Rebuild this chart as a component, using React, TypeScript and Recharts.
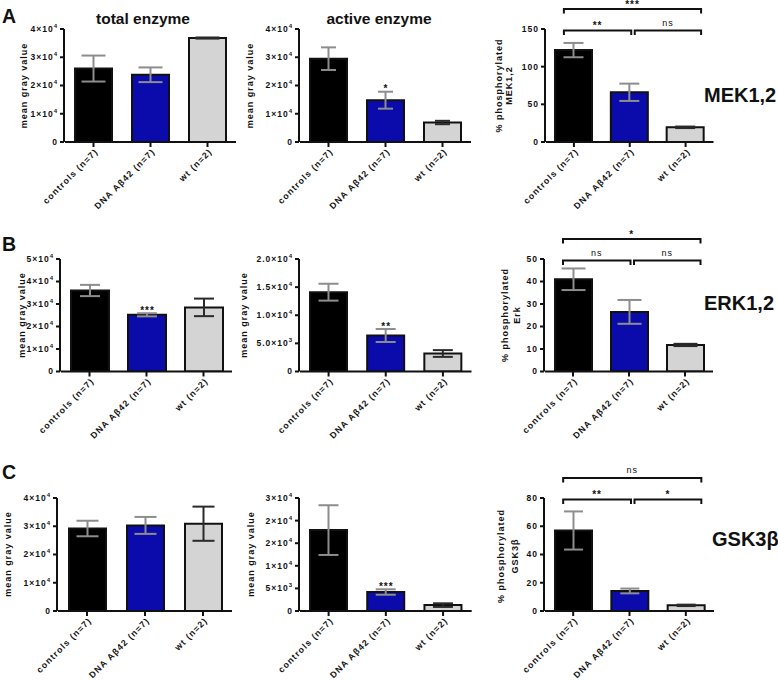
import React from 'react';
import { BarChart, Bar, XAxis, YAxis, ErrorBar, Cell, LabelList, ReferenceLine } from 'recharts';

const FONT = '"Liberation Sans", Arial, Helvetica, sans-serif';
const INK = '#111111';

// ---------- categories & styling keys ----------
const groups = ['controls (n=7)', 'DNA Aβ42 (n=7)', 'wt (n=2)'];
const barFills = ['#000000', '#0b0bab', '#d4d4d4'];
const errorTone = ['light', 'light', 'dark'];

// ---------- MEK1,2 ----------
const mekTotalMean = [26000, 23800, 36800];
const mekTotalSem = [4600, 2600, 200];
const mekActiveMean = [29500, 14800, 6900];
const mekActiveSem = [4000, 3000, 600];
const mekActiveSig = ['', '*', ''];
const mekPhosMean = [122, 66, 19.5];
const mekPhosSem = [9.5, 11.5, 1];
const mekComparisons: [string, number, number][] = [['**', 0, 1], ['ns', 1, 2], ['***', 0, 2]];

// ---------- ERK1,2 ----------
const erkTotalMean = [36000, 25200, 28500];
const erkTotalSem = [2500, 700, 3900];
const erkTotalSig = ['', '***', ''];
const erkActiveMean = [14100, 6400, 3200];
const erkActiveSem = [1500, 1150, 600];
const erkActiveSig = ['', '**', ''];
const erkPhosMean = [41, 26.5, 11.8];
const erkPhosSem = [4.8, 5.3, 0.5];
const erkComparisons: [string, number, number][] = [['ns', 0, 1], ['ns', 1, 2], ['*', 0, 2]];

// ---------- GSK3β ----------
const gskTotalMean = [29200, 30300, 30900];
const gskTotalSem = [2750, 3000, 6050];
const gskActiveMean = [17900, 4200, 1300];
const gskActiveSem = [5500, 600, 400];
const gskActiveSig = ['', '***', ''];
const gskPhosMean = [57, 14.2, 4.0];
const gskPhosSem = [13.5, 1.7, 0.5];
const gskComparisons: [string, number, number][] = [['**', 0, 1], ['*', 1, 2], ['ns', 0, 2]];

// ---------- axis ticks & labels ----------
const ticks40k = [0, 10000, 20000, 30000, 40000];
const labels40k = ['0', '1×10^4', '2×10^4', '3×10^4', '4×10^4'];
const ticks50k = [0, 10000, 20000, 30000, 40000, 50000];
const labels50k = ['0', '1×10^4', '2×10^4', '3×10^4', '4×10^4', '5×10^4'];
const ticks20k = [0, 5000, 10000, 15000, 20000];
const labels20k = ['0', '5.0×10^3', '1.0×10^4', '1.5×10^4', '2.0×10^4'];
const ticks25k = [0, 5000, 10000, 15000, 20000, 25000];
const labels25k = ['0', '5×10^3', '1×10^4', '2×10^4', '2×10^4', '3×10^4'];
const ticksMekPhos = [0, 50, 100, 150];
const labelsMekPhos = ['0', '50', '100', '150'];
const ticksErkPhos = [0, 10, 20, 30, 40, 50];
const labelsErkPhos = ['0', '10', '20', '30', '40', '50'];
const ticksGskPhos = [0, 20, 40, 60, 80];
const labelsGskPhos = ['0', '20', '40', '60', '80'];

// bracket end nudges (px) relative to category centres: left end by start group, right end by end group
const bracketLeftShift = [-10, 5];
const bracketRightShift = [1.5, 15.5];

type PanelProps = {
  plotLeft: number; plotRight: number; plotTop: number; plotBottom: number;
  ticks: number[]; tickLabels: string[];
  means: number[]; sems: number[]; sigs?: string[];
  comps?: [string, number, number][];
  barSize: number; capHalf: number;
};

const XTick = (props: any) => {
  const { x, y, payload } = props;
  return (
    <text
      transform={`translate(${x + 3},${y + 1}) rotate(-45)`}
      textAnchor="end"
      dy="0.35em"
      fontSize={8.8}
      fontWeight={700}
      letterSpacing={1.1}
      fill={INK}
      fontFamily={FONT}
    >
      {payload.value}
    </text>
  );
};

const makeYTick = (ticks: number[], labels: string[]) => (props: any) => {
  const { x, y, payload } = props;
  const idx = ticks.indexOf(payload.value);
  const lab = idx >= 0 ? labels[idx] : String(payload.value);
  const [base, exp] = lab.split('^');
  return (
    <text x={x} y={y} dy="0.35em" textAnchor="end" fontSize={8.5} fontWeight={700}
      letterSpacing={1} fill={INK} fontFamily={FONT}>
      {base}
      {exp ? <tspan dy={-4} fontSize={6}>{exp}</tspan> : null}
    </text>
  );
};

const makeBracket = (lab: string, dl: number, dr: number) => (sp: any) => {
  const { x1, y1, x2 } = sp;
  if (x1 == null || y1 == null || x2 == null) return <g />;
  const xa = x1 + dl;
  const xb = x2 + dr;
  const isNs = lab === 'ns';
  return (
    <g>
      <path d={`M${xa},${y1 + 4.5} V${y1} H${xb} V${y1 + 4.5}`} fill="none" stroke={INK} strokeWidth={2} />
      <text x={(xa + xb) / 2} y={y1 - (isNs ? 5 : 1.5)} textAnchor="middle" fontSize={isNs ? 9 : 10}
        fontWeight={isNs ? 400 : 700} letterSpacing={1} fill={INK} fontFamily={FONT}>{lab}</text>
    </g>
  );
};

function Panel(p: PanelProps) {
  const { plotLeft, plotRight, plotTop, plotBottom, ticks, tickLabels, means, sems, sigs, comps, barSize, capHalf } = p;
  const plotH = plotBottom - plotTop;
  const plotW = plotRight - plotLeft;
  const L = 46, T = 36, B = 80, R = 4;
  const max = ticks[ticks.length - 1];
  const perPx = max / plotH;

  const data = groups.map((g, i) => ({
    group: g,
    mean: means[i],
    errLight: errorTone[i] === 'light' ? sems[i] : undefined,
    errDark: errorTone[i] === 'dark' ? sems[i] : undefined,
    sig: sigs ? sigs[i] : '',
  }));

  const majorPx = plotH / (ticks.length - 1);
  const nSub = Math.max(1, Math.round(majorPx / 2.8));
  const step = (ticks[1] - ticks[0]) / nSub;
  const minorTicks: number[] = [];
  for (let k = 0; k * step <= max + 1e-9; k++) minorTicks.push(k * step);

  const renderSig = (lp: any) => {
    const { x, y, width, height, index, value } = lp;
    if (!value) return null;
    const d = data[index];
    const e = d ? (d.errLight ?? d.errDark ?? 0) : 0;
    const errPx = d && d.mean ? (e / d.mean) * height : 0;
    return (
      <text x={x + width / 2 + 0.5} y={y - errPx + 0.5} textAnchor="middle" fontSize={10}
        fontWeight={700} letterSpacing={1} fill={INK} fontFamily={FONT}>{value}</text>
    );
  };

  const lowY = max - 1.5 * perPx;
  const highY = max + 20 * perPx;

  return (
    <div style={{ position: 'absolute', left: plotLeft - L - 1, top: plotTop - T }}>
      <BarChart
        width={L + 1 + plotW + R}
        height={T + plotH + B}
        data={data}
        margin={{ top: T, right: R, bottom: 0, left: 0 }}
        barSize={barSize}
      >
        <XAxis xAxisId={0} dataKey="group" interval={0} height={B} tickSize={5} tickMargin={2}
          axisLine={{ stroke: INK, strokeWidth: 2 }} tickLine={{ stroke: INK, strokeWidth: 2 }}
          tick={<XTick />} />
        <YAxis yAxisId={0} width={1} domain={[0, max]} ticks={minorTicks} interval={0} tick={false}
          axisLine={false} tickLine={{ stroke: INK, strokeWidth: 1 }} tickSize={2} allowDataOverflow />
        <YAxis yAxisId={1} width={L} domain={[0, max]} ticks={ticks} interval={0} tickSize={4} tickMargin={2}
          axisLine={{ stroke: INK, strokeWidth: 2 }} tickLine={{ stroke: INK, strokeWidth: 2 }}
          tick={makeYTick(ticks, tickLabels)} allowDataOverflow />
        <Bar xAxisId={0} yAxisId={1} dataKey="mean" stroke={INK} strokeWidth={2} isAnimationActive={false}>
          {data.map((d, i) => (
            <Cell key={d.group} fill={barFills[i]} />
          ))}
          <ErrorBar dataKey="errLight" width={capHalf} stroke="#8d8d8d" strokeWidth={2} direction="y" />
          <ErrorBar dataKey="errDark" width={capHalf} stroke="#2a2a2a" strokeWidth={2} direction="y" />
          <LabelList dataKey="sig" content={renderSig} />
        </Bar>
        {(comps || []).map(([lab, a, b], ci) => (
          <ReferenceLine
            key={`br${ci}`}
            xAxisId={0}
            yAxisId={1}
            ifOverflow="visible"
            segment={[{ x: groups[a], y: b - a === 1 ? lowY : highY }, { x: groups[b], y: b - a === 1 ? lowY : highY }]}
            shape={makeBracket(lab, bracketLeftShift[a], bracketRightShift[b - 1])}
          />
        ))}
      </BarChart>
    </div>
  );
}

const rowA = { plotTop: 29, plotBottom: 142 };
const rowB = { plotTop: 258.5, plotBottom: 371 };
const rowC = { plotTop: 497.5, plotBottom: 610.5 };

const RotLabel = ({ x, y, children }: { x: number; y: number; children: React.ReactNode }) => (
  <text transform={`translate(${x},${y}) rotate(-90)`} textAnchor="middle" dominantBaseline="central"
    fontSize={9} fontWeight={700} letterSpacing={1} fill={INK} fontFamily={FONT}>{children}</text>
);

export default function App() {
  return (
    <div style={{ position: 'absolute', left: 0, top: 0, width: 778, height: 681, background: '#ffffff', overflow: 'hidden', fontFamily: FONT }}>
      {/* Row A: MEK1,2 */}
      <Panel {...rowA} plotLeft={65} plotRight={236} ticks={ticks40k} tickLabels={labels40k}
        means={mekTotalMean} sems={mekTotalSem} barSize={37} capHalf={12} />
      <Panel {...rowA} plotLeft={300} plotRight={471} ticks={ticks40k} tickLabels={labels40k}
        means={mekActiveMean} sems={mekActiveSem} sigs={mekActiveSig} barSize={37} capHalf={7.5} />
      <Panel {...rowA} plotLeft={545.5} plotRight={713} ticks={ticksMekPhos} tickLabels={labelsMekPhos}
        means={mekPhosMean} sems={mekPhosSem} comps={mekComparisons} barSize={37} capHalf={10} />

      {/* Row B: ERK1,2 */}
      <Panel {...rowB} plotLeft={61} plotRight={232} ticks={ticks50k} tickLabels={labels50k}
        means={erkTotalMean} sems={erkTotalSem} sigs={erkTotalSig} barSize={38} capHalf={10} />
      <Panel {...rowB} plotLeft={300} plotRight={471.5} ticks={ticks20k} tickLabels={labels20k}
        means={erkActiveMean} sems={erkActiveSem} sigs={erkActiveSig} barSize={37} capHalf={10} />
      <Panel {...rowB} plotLeft={545} plotRight={713} ticks={ticksErkPhos} tickLabels={labelsErkPhos}
        means={erkPhosMean} sems={erkPhosSem} comps={erkComparisons} barSize={37} capHalf={12} />

      {/* Row C: GSK3β */}
      <Panel {...rowC} plotLeft={58} plotRight={232} ticks={ticks40k} tickLabels={labels40k}
        means={gskTotalMean} sems={gskTotalSem} barSize={37} capHalf={11} />
      <Panel {...rowC} plotLeft={300} plotRight={471.7} ticks={ticks25k} tickLabels={labels25k}
        means={gskActiveMean} sems={gskActiveSem} sigs={gskActiveSig} barSize={37} capHalf={10} />
      <Panel {...rowC} plotLeft={545} plotRight={714} ticks={ticksGskPhos} tickLabels={labelsGskPhos}
        means={gskPhosMean} sems={gskPhosSem} comps={gskComparisons} barSize={37} capHalf={9.5} />

      <svg width={778} height={681} style={{ position: 'absolute', left: 0, top: 0, pointerEvents: 'none' }}>
        <g fontFamily={FONT} fill={INK} fontWeight={700}>
          <text x={2} y={23} fontSize={19.5}>A</text>
          <text x={2} y={251} fontSize={19.5}>B</text>
          <text x={2} y={479} fontSize={19.5}>C</text>
          <text x={143} y={24} fontSize={15.5} textAnchor="middle">total enzyme</text>
          <text x={379} y={24} fontSize={15.5} textAnchor="middle">active enzyme</text>
          <text x={704} y={102} fontSize={20}>MEK1,2</text>
          <text x={704} y={310} fontSize={20}>ERK1,2</text>
          <text x={712} y={546} fontSize={20}>GSK3β</text>
        </g>
        <RotLabel x={24} y={85.5}>mean gray value</RotLabel>
        <RotLabel x={250} y={85.5}>mean gray value</RotLabel>
        <RotLabel x={498.5} y={85.5}>% phosphorylated</RotLabel>
        <RotLabel x={508.5} y={85.5}>MEK1,2</RotLabel>

        <RotLabel x={21.5} y={315}>mean gray value</RotLabel>
        <RotLabel x={244} y={315}>mean gray value</RotLabel>
        <RotLabel x={505} y={315}>% phosphorylated</RotLabel>
        <RotLabel x={516.5} y={315}>Erk</RotLabel>

        <RotLabel x={8} y={554}>mean gray value</RotLabel>
        <RotLabel x={251} y={554}>mean gray value</RotLabel>
        <RotLabel x={501} y={556}>% phosphorylated</RotLabel>
        <RotLabel x={514.5} y={556}>GSK3β</RotLabel>
      </svg>
    </div>
  );
}
